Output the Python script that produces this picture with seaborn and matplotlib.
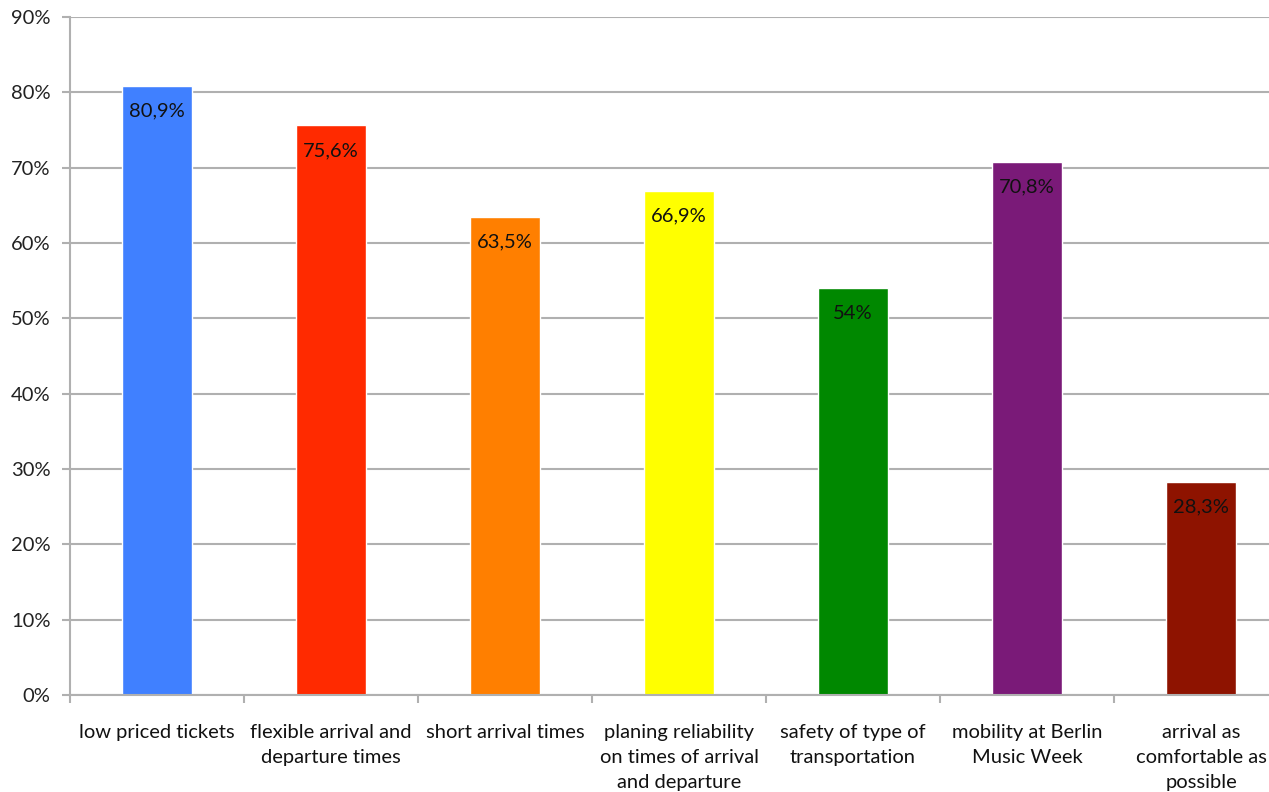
import matplotlib
matplotlib.use("Agg")
import matplotlib.pyplot as plt
import seaborn as sns
import pandas as pd
import numpy as np

categories = ["low priced tickets", "flexible arrival and\ndeparture times", "short arrival times",
              "planing reliability\non times of arrival\nand departure", "safety of type of\ntransportation",
              "mobility at Berlin\nMusic Week", "arrival as\ncomfortable as\npossible"]
values = [80.9, 75.6, 63.5, 66.9, 54.0, 70.8, 28.3]
value_labels = ["80,9%", "75,6%", "63,5%", "66,9%", "54%", "70,8%", "28,3%"]
colors = ["#4080FF", "#FF2A00", "#FF7F00", "#FFFF00", "#008800", "#7A1A78", "#8E1300"]
yticks = [0, 10, 20, 30, 40, 50, 60, 70, 80, 90]

sns.set_style("white")
plt.rcParams['font.family'] = ['Lato', 'DejaVu Sans']

df = pd.DataFrame({"cat": categories, "val": values})

fig = plt.figure(figsize=(12.69, 7.92), dpi=100)
# plot area runs past the right edge of the picture, like the original
ax = fig.add_axes([70/1269, 97/792, 1218/1269, 678/792])

sns.barplot(data=df, x="cat", y="val", hue="cat", palette=colors, width=0.4,
            legend=False, ax=ax, saturation=1)

ax.set_ylim(0, 90)
ax.set_xlim(-0.5, len(categories) - 0.5)
ax.set_yticks(yticks)
ax.set_yticklabels([f"{t}%" for t in yticks], fontsize=14.5, color="#222222")
ax.yaxis.grid(True, color="#b0b0b0", linewidth=1.5)
ax.set_axisbelow(True)

ax.set_xticks(range(len(categories)))
ax.set_xticklabels(categories, fontsize=14.5, linespacing=1.58, va="top", color="#111111")
ax.set_xticks(np.arange(len(categories) + 1) - 0.5, minor=True)
ax.tick_params(axis="x", which="major", length=0, pad=21)
ax.tick_params(axis="x", which="minor", length=6, width=1.5, color="#b0b0b0", bottom=True)
ax.tick_params(axis="y", length=6, width=1.5, color="#b0b0b0", left=True, pad=8)
ax.set_xlabel("")
ax.set_ylabel("")

for s in ["top", "right"]:
    ax.spines[s].set_visible(False)
for s in ["left", "bottom"]:
    ax.spines[s].set_color("#b0b0b0")
    ax.spines[s].set_linewidth(1.5)

for i, (v, lab) in enumerate(zip(values, value_labels)):
    ax.annotate(lab, (i, v), xytext=(0, -18), textcoords="offset points",
                ha="center", va="center", fontsize=14.5, color="#111111")

fig.savefig("out.png", dpi=100)
